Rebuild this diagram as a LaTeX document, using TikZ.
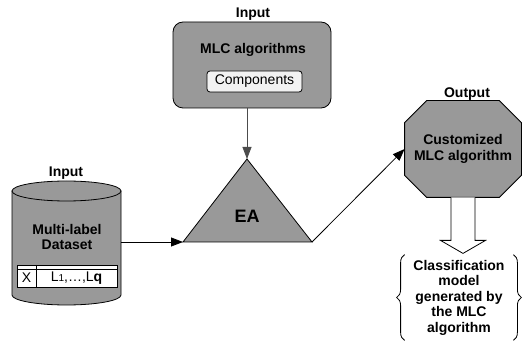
\documentclass[tikz,border=0pt]{standalone}
\usepackage{fontspec}
\setmainfont{Liberation Sans}
\usetikzlibrary{arrows.meta, positioning, decorations.pathreplacing, calc}
\definecolor{boxgray}{rgb}{0.6, 0.6, 0.6}
\definecolor{compwhite}{rgb}{0.95, 0.95, 0.95}

\begin{document}
\begin{tikzpicture}[x=1pt, y=-1pt, line width=0.8pt,
	every node/.style={font=\fontsize{14}{15.5}\selectfont\bfseries},
	plain/.style={font=\fontsize{14}{15.5}\selectfont},
	>={Triangle[length=12pt, width=9pt]}]
			\useasboundingbox (0,0) rectangle (530,347);
			% multi-label dataset
			\node [minimum width=109pt, minimum height=124pt, inner sep=0pt] (data) at (66.5,242) {};
			\draw [fill=boxgray] (12,191) -- (12,295) arc [start angle=180, end angle=360, x radius=54.5pt, y radius=10pt] -- (121,191) -- cycle;
			\draw [fill=boxgray] (66.5,191) ellipse [x radius=54.5pt, y radius=10pt];
			\node at (66,173) {Input};
			\node [align=center] at (67,237) {Multi-label\\Dataset};
			\draw [fill=white] (17,265) rectangle (117,287);
			\draw (17,269) -- (117,269);
			\draw (36,265) -- (36,287);
			\node [plain] at (26.5,278) {X};
			\node [plain] at (76.5,278) {L{\fontsize{10}{10}\selectfont 1},\ldots,L\textbf{q}};
			
			% algorithms
			\node [draw, fill=boxgray, rounded corners=10pt, minimum width=158pt, minimum height=86pt] (mlc) at (252,65) {};
			\node at (253,14) {Input};
			\node at (253,50) {MLC algorithms};
			\node [plain, draw, fill=compwhite, rounded corners=3pt, minimum width=95pt, minimum height=21pt, inner sep=1pt] (comp) at (254.5,81.5) {Components};
			
			% EA
			\coordinate (eaTop) at (247,159);
			\coordinate (eaLeft) at (183,242);
			\coordinate (eaRight) at (312,242);
			\draw [fill=boxgray] (eaTop) -- (eaLeft) -- (eaRight) -- cycle;
			\node [font=\fontsize{18}{18}\selectfont\bfseries] (ea) at (247,216) {EA};
			
			% output
			\node [minimum width=116pt, minimum height=96pt, inner sep=0pt] (out) at (463,149) {};
			\draw [fill=boxgray] ($(out.north west)+(22,0)$) -- ($(out.north east)+(-22,0)$) -- ($(out.north east)+(0,22)$) -- ($(out.south east)+(0,-22)$)
				-- ($(out.south east)+(-22,0)$) -- ($(out.south west)+(22,0)$) -- ($(out.south west)+(0,-22)$) -- ($(out.north west)+(0,22)$) -- cycle;
			\node [align=center] at (out) {Customized\\MLC algorithm};
			\node at (467,94) {Output};
			
			\draw [fill=white] ($(out.south)+(-12,0)$) -- ++(0,43) -- ++(-10.5,0) -- ($(out.south)+(0,56)$) -- ($(out.south)+(22.5,43)$) -- ++(-10.5,0) -- ($(out.south)+(12,0)$);
			
			\node [align=center, inner sep=0pt, minimum width=108pt, minimum height=85pt] (model) at (459,297.5) {Classification\\model\\generated by\\the MLC\\algorithm};
			\draw [decorate, decoration={brace, amplitude=8pt}] (model.south west) -- (model.north west);
			\draw [decorate, decoration={brace, amplitude=8pt}] (model.north east) -- (model.south east);
			
			% connectors
			\draw [->] (data.east) -- (eaLeft);
			\draw [->, draw=black!70] (mlc.south -| eaTop) -- (eaTop);
			\draw [->] (eaRight) -- (out.west);
\end{tikzpicture}
\end{document}
